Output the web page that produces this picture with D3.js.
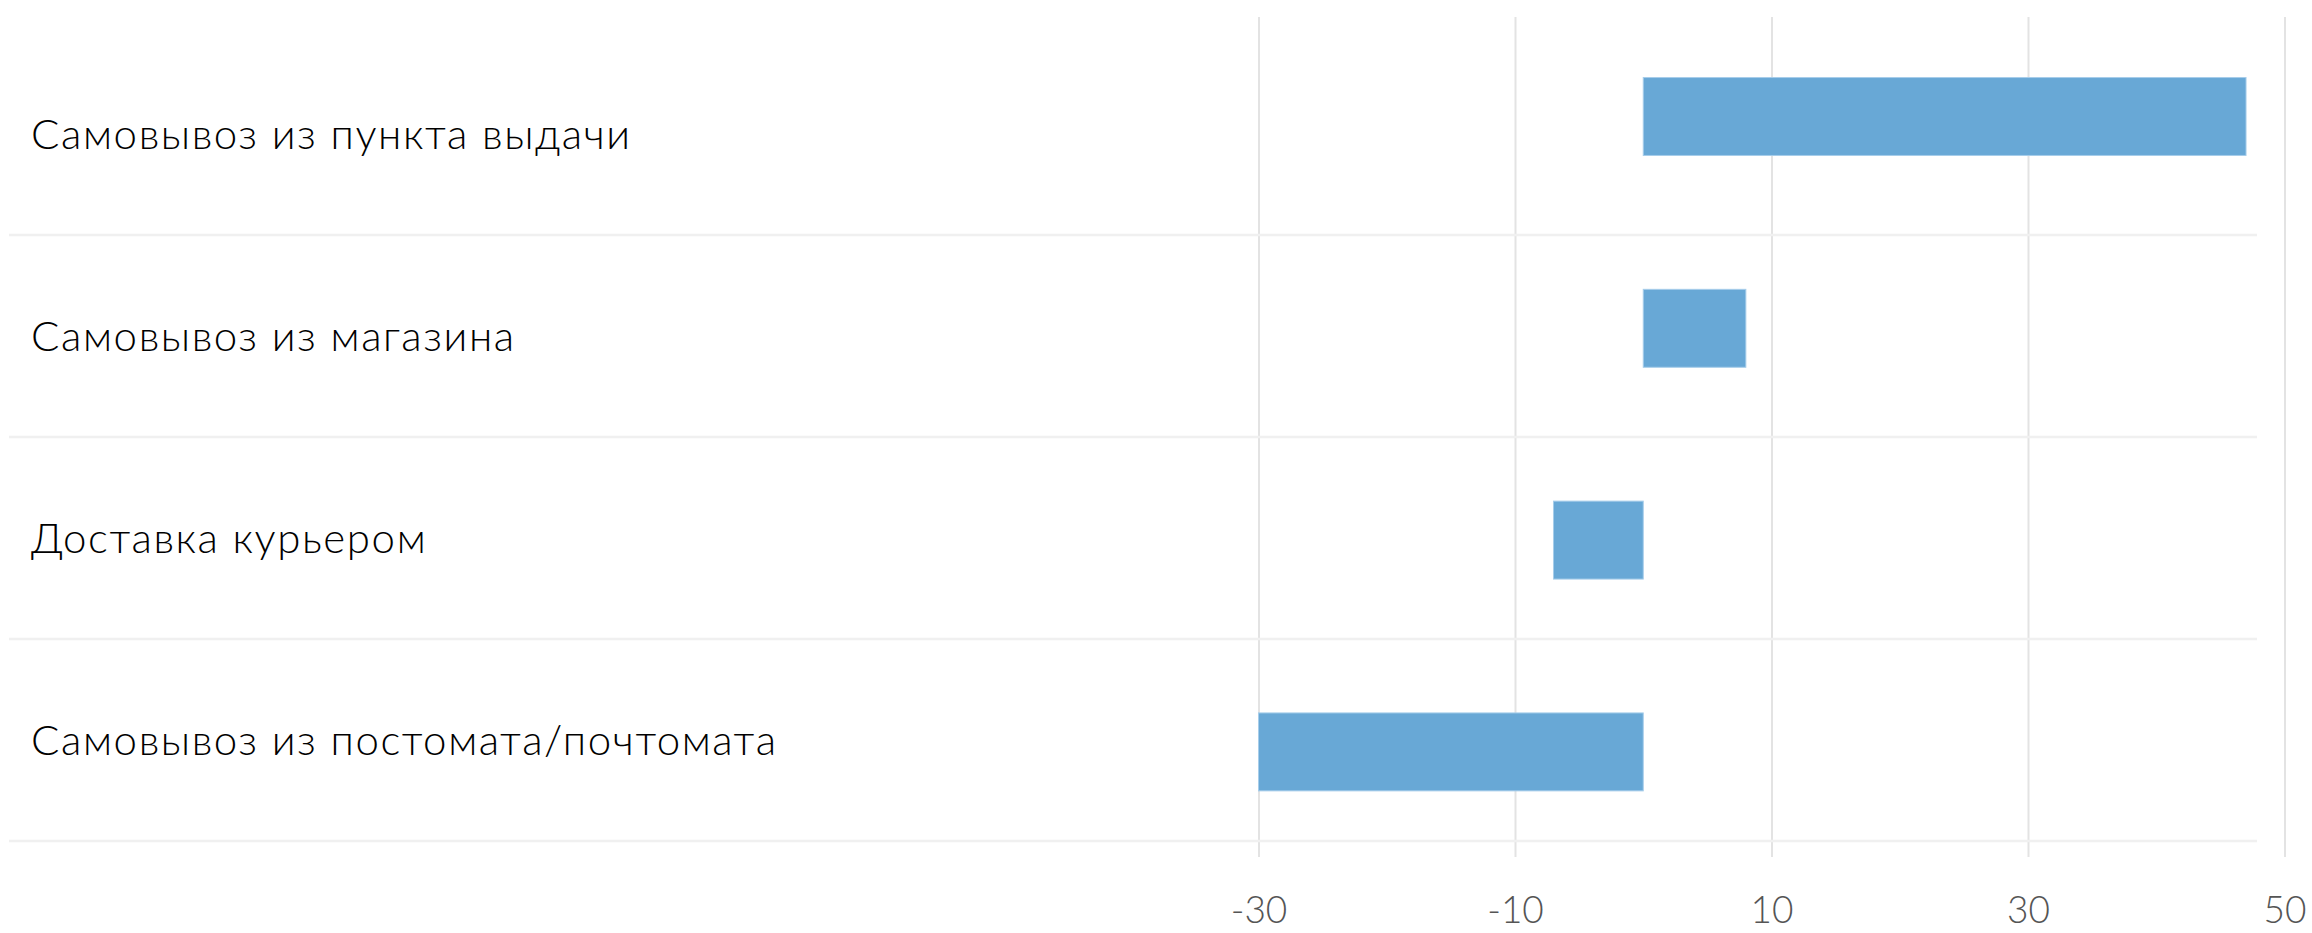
<!DOCTYPE html>
<html>
<head>
<meta charset="utf-8">
<script src="https://cdn.jsdelivr.net/npm/d3@7"></script>
<style>
  html, body { margin: 0; padding: 0; background: #fff; }
  .cat-label { font-family: Lato, "Open Sans", sans-serif; font-size: 42px; font-weight: 300; letter-spacing: 1.6px; fill: #000; }
  .x-axis text { font-family: Lato, "Open Sans", sans-serif; font-size: 37px; font-weight: 300; fill: #555; }
</style>
</head>
<body>
<div class="chartRender"></div>
<script>
var width = 2312,
    height = 933;

// data
var categories = [
  "Самовывоз из пункта выдачи",
  "Самовывоз из магазина",
  "Доставка курьером",
  "Самовывоз из постомата/почтомата"
];
var values = [47, 8, -7, -30];
var tickValues = [-30, -10, 10, 30, 50];
var tickLabels = ["-30", "-10", "10", "30", "50"];

// scales
var x = d3.scaleLinear().domain([-30, 50]).range([1258.5, 2284.5]);

// rows for labels and separators
var rows = d3.scaleBand().domain(categories).range([33, 841]);

// bars sit on their own band
var bars = d3.scaleBand().domain(categories).range([10.6, 857.8])
    .paddingInner(0.632).paddingOuter(0.316);

var svg = d3.select(".chartRender").append("svg")
    .attr("width", width)
    .attr("height", height);

// x axis with gridlines
var xAxis = d3.axisBottom(x)
    .tickValues(tickValues)
    .tickFormat(function(d, i){ return tickLabels[i]; })
    .tickSize(-(857 - 17))
    .tickPadding(40);

var gx = svg.append("g")
    .attr("class", "x-axis")
    .attr("transform", "translate(0,857)")
    .call(xAxis);
gx.select(".domain").remove();
gx.selectAll(".tick line")
    .attr("stroke", "#e3e3e3")
    .attr("stroke-width", 2);

// row separators
svg.append("g").selectAll("line")
    .data(categories)
    .enter().append("line")
    .attr("x1", 9)
    .attr("x2", 2257)
    .attr("y1", function(d){ return rows(d) + rows.bandwidth(); })
    .attr("y2", function(d){ return rows(d) + rows.bandwidth(); })
    .attr("stroke", "#f0f0f0")
    .attr("stroke-width", 2.5);

// bars
svg.append("g").selectAll("rect")
    .data(values)
    .enter().append("rect")
    .attr("x", function(d){ return x(Math.min(0, d)); })
    .attr("y", function(d, i){ return bars(categories[i]); })
    .attr("width", function(d){ return Math.abs(x(d) - x(0)); })
    .attr("height", bars.bandwidth())
    .attr("fill", "#68a8d6")
    .attr("stroke", "#a6cdea")
    .attr("stroke-width", 1);

// category labels
svg.append("g").selectAll("text")
    .data(categories)
    .enter().append("text")
    .attr("class", "cat-label")
    .attr("x", 31)
    .attr("y", function(d){ return rows(d) + rows.bandwidth() / 2; })
    .attr("dy", "0.35em")
    .text(function(d){ return d; });
</script>
</body>
</html>
